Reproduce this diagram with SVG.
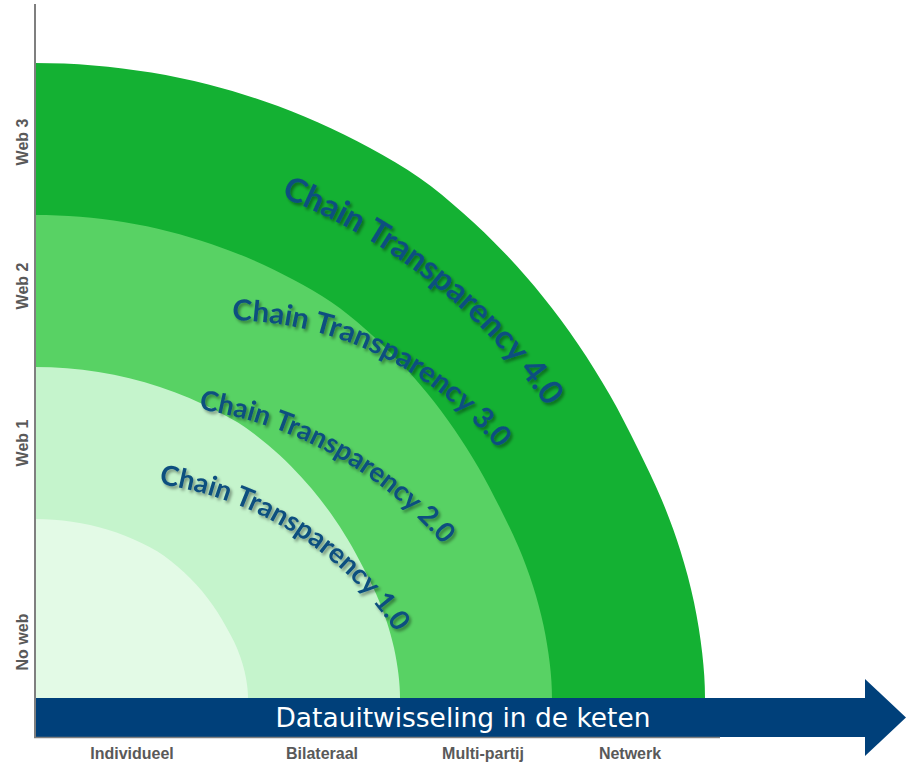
<svg xmlns="http://www.w3.org/2000/svg" width="907" height="764" viewBox="0 0 907 764">
  <style>
    .ring4 { fill: #14b133; }
    .ring3 { fill: #58d264; }
    .ring2 { fill: #c5f4cc; }
    .ring1 { fill: #e3fae6; }
    .lbl { font-family: Lato, "Open Sans", sans-serif; font-weight: 700; fill: #0d4f7f; filter: url(#sh); }
    .axis { stroke: #7f7f7f; fill: none; }
    .tick { font-family: "Liberation Sans", Arial, sans-serif; font-weight: 700; font-size: 16px; fill: #595959; text-anchor: middle; }
    .bartext { font-family: "DejaVu Sans", Verdana, sans-serif; font-size: 26px; fill: #ffffff; text-anchor: middle; }
  </style>
  <defs>
    <filter id="sh" x="-10%" y="-20%" width="130%" height="150%">
      <feDropShadow dx="2" dy="2.5" stdDeviation="1.5" flood-color="#000000" flood-opacity="0.4"/>
    </filter>
    <path id="ring" d="M35,700 L35,63 C54.5,63 74.0,63.8 93.4,65.4 C112.8,67.0 132.1,69.4 151.3,72.6 C170.5,75.8 189.6,79.8 208.4,84.6 C227.2,89.4 245.9,95.0 264.2,101.3 C282.5,107.6 300.6,114.7 318.2,122.5 C335.8,130.3 353.2,138.9 370,148.1 C386.9,157.3 403.8,167.0 419.3,177.8 C434.9,188.7 449.1,200.7 463.3,213.2 C477.5,225.7 491.3,239.1 504.6,253.0 C517.9,266.9 530.7,281.6 542.9,296.8 C555.2,312.0 567.0,328.0 578.1,344.3 C589.2,360.6 599.8,377.6 609.7,394.8 C619.6,412.0 628.8,430.4 637.4,447.7 C646.0,465.1 654.2,481.7 661.4,498.9 C668.6,516.1 675.0,533.5 680.4,550.7 C685.8,567.9 690.4,585.2 694.0,602.3 C697.6,619.4 700.4,637.2 702.2,653.1 C704.0,669.1 705,683 705,698 L705,700 Z"/>
    <path id="p4" d="M280.9,196.9 A575,575 0 0 1 613.3,536.3"/>
    <path id="p3" d="M232.1,320.1 A351,351 0 0 1 555.8,551.0"/>
    <path id="p2" d="M198.8,409.4 A398,398 0 0 1 514.0,666.9"/>
    <path id="p1" d="M159.0,484.2 A342,342 0 0 1 448.8,763.6"/>
  </defs>

  <g id="ct4">
    <use href="#ring" class="ring4"/>
    <text class="lbl" font-size="33"><textPath href="#p4" textLength="344" lengthAdjust="spacingAndGlyphs">Chain Transparency 4.0</textPath></text>
  </g>
  <g id="ct3">
    <use href="#ring" class="ring3" transform="matrix(0.7716,0,0,0.7606,7.99,167.1)"/>
    <text class="lbl" font-size="29"><textPath href="#p3" textLength="305" lengthAdjust="spacingAndGlyphs">Chain Transparency 3.0</textPath></text>
  </g>
  <g id="ct2">
    <use href="#ring" class="ring2" transform="matrix(0.5448,0,0,0.5213,15.93,334.1)"/>
    <text class="lbl" font-size="27.5"><textPath href="#p2" textLength="285" lengthAdjust="spacingAndGlyphs">Chain Transparency 2.0</textPath></text>
  </g>
  <g id="ct1">
    <use href="#ring" class="ring1" transform="matrix(0.3179,0,0,0.2819,23.87,501.2)"/>
    <text class="lbl" font-size="27.5"><textPath href="#p1" textLength="288" lengthAdjust="spacingAndGlyphs">Chain Transparency 1.0</textPath></text>
  </g>

  <g id="connectors">
    <g id="x-arrow">
      <rect x="35" y="698" width="832" height="39" fill="#00407a"/>
      <polygon points="865,679 906,717.5 865,756" fill="#00407a"/>
      <text class="bartext" x="463" y="727" textLength="375" lengthAdjust="spacingAndGlyphs">Datauitwisseling in de keten</text>
    </g>
    <line class="axis" x1="34" y1="737.5" x2="720" y2="737.5" stroke-width="1.5"/>
    <line class="axis" x1="35" y1="4" x2="35" y2="738" stroke-width="2"/>
  </g>

  <g id="x-labels">
    <text class="tick" x="132" y="759">Individueel</text>
    <text class="tick" x="322" y="759">Bilateraal</text>
    <text class="tick" x="483" y="759">Multi-partij</text>
    <text class="tick" x="630" y="759">Netwerk</text>
  </g>
  <g id="y-labels">
    <text class="tick" transform="translate(28,142) rotate(-90)">Web 3</text>
    <text class="tick" transform="translate(28,286) rotate(-90)">Web 2</text>
    <text class="tick" transform="translate(28,443) rotate(-90)">Web 1</text>
    <text class="tick" transform="translate(28,642) rotate(-90)">No web</text>
  </g>
</svg>
